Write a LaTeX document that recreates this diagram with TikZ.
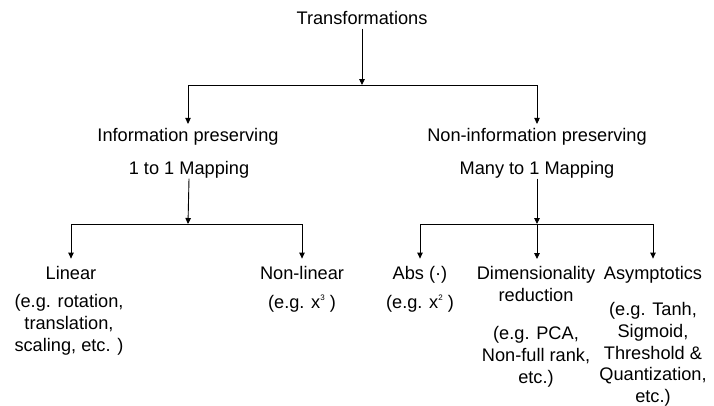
\documentclass[tikz,border=0pt]{standalone}
\usepackage{fontspec}
\setmainfont{Liberation Sans}
\usetikzlibrary{arrows.meta}
\newcommand\supnum[1]{\raisebox{0.8ex}{\fontsize{8}{8}\selectfont #1}}
\begin{document}
\begin{tikzpicture}[x=1pt,y=-1pt,
  txt/.style={inner sep=0pt, align=center, font=\fontsize{18.2}{21.6}\selectfont},
  head/.style={txt, anchor=base, text height=13.2pt, text depth=3.9pt},
  note/.style={txt, anchor=north},
  link/.style={line width=0.9pt, draw=black},
  arr/.style={link, -{Triangle[width=5.5pt,length=6pt]}}]
\useasboundingbox (0,0) rectangle (714,405);

% root
\node[head] (T) at (362,24.5) {Transformations};

% second level
\node[head] (IP)  at (188,141.3) {Information preserving};
\node[head] (M1)  at (189,174.5) {1 to 1 Mapping};
\node[head] (NIP) at (537,141.3) {Non-information preserving};
\node[head] (MM)  at (537,174.5) {Many to 1 Mapping};

% leaves, left branch
\node[head] (Lin) at (71,279) {Linear};
\node[note] (LinEx) at (69,294.6) {(e.g. rotation,\\translation,\\scaling, etc. )};
\node[head] (NL)  at (302,279) {Non-linear};
\node[note] (NLEx) at (302,294.6) {(e.g. x\supnum{3} )};

% leaves, right branch
\node[head] (Abs) at (420,279) {Abs (·)};
\node[note] (AbsEx) at (420,294.6) {(e.g. x\supnum{2} )};
\node[txt, anchor=north] (Dim) at (536,266.5) {Dimensionality\\reduction};
\node[note] (DimEx) at (536,326.6) {(e.g. PCA,\\Non-full rank,\\etc.)};
\node[head] (Asy) at (653,279) {Asymptotics};
\node[note] (AsyEx) at (653,302.6) {(e.g. Tanh,\\Sigmoid,\\Threshold \&\\Quantization,\\etc.)};

% junction points on the horizontal bars
\coordinate (topbar) at (362,85);
\coordinate (lbar) at (188,224);
\coordinate (rbar) at (537,224);

% connectors
\draw[arr] (T.south) -- (topbar);
\draw[arr, shorten >=4pt] (topbar) -| (IP);
\draw[arr, shorten >=4pt] (topbar) -| (NIP);

\draw[arr] (M1.south) -- (lbar);
\draw[arr, shorten >=7pt] (lbar) -| (Lin);
\draw[arr, shorten >=7pt] (lbar) -| (NL);

\draw[arr] (MM.south) -- (rbar);
\draw[arr, shorten >=7pt] (rbar) -| (Abs);
\draw[arr, shorten >=7.5pt] (rbar) -- (Dim.north -| rbar);
\draw[arr, shorten >=7pt] (rbar) -| (Asy);
\end{tikzpicture}
\end{document}
